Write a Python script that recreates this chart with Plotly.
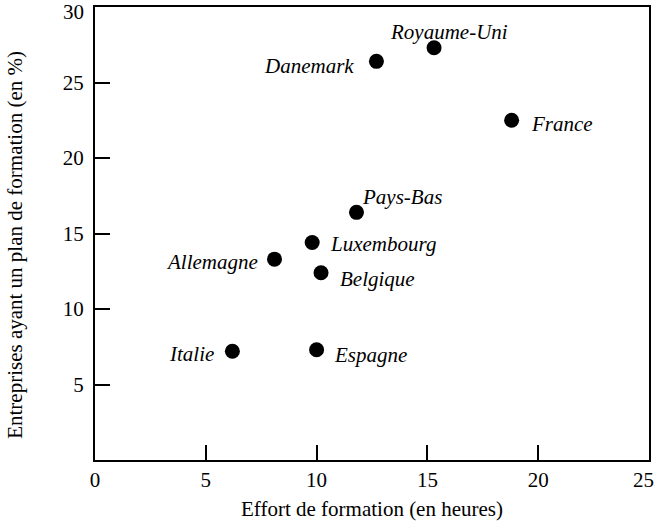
import plotly.graph_objects as go

countries = ["Royaume-Uni", "Danemark", "France", "Pays-Bas", "Luxembourg",
             "Allemagne", "Belgique", "Italie", "Espagne"]
effort_heures = [15.3, 12.7, 18.8, 11.8, 9.8, 8.1, 10.2, 6.2, 10.0]
pct_plan = [27.3, 26.4, 22.5, 16.4, 14.4, 13.3, 12.4, 7.2, 7.3]

x_ticks = [0, 5, 10, 15, 20, 25]
y_ticks = [5, 10, 15, 20, 25, 30]

# label placement: (xanchor, xshift, yshift) in pixels
label_pos = {
    "Royaume-Uni": ("center", 15, 16),
    "Danemark": ("right", -20, -5),
    "France": ("left", 17, -4),
    "Pays-Bas": ("left", 4, 15),
    "Luxembourg": ("left", 16, -1),
    "Allemagne": ("right", -15, -3),
    "Belgique": ("left", 17, -6),
    "Italie": ("right", -16, -3),
    "Espagne": ("left", 15, -5),
}

SERIF = "Liberation Serif, Times New Roman, serif"
FS = 21
tick_font = dict(family=SERIF, size=FS, color="black")

fig = go.Figure(go.Scatter(
    x=effort_heures, y=pct_plan, mode="markers",
    marker=dict(size=15, color="black"),
    hoverinfo="skip", showlegend=False,
))

for name, xv, yv in zip(countries, effort_heures, pct_plan):
    anchor, dx, dy = label_pos[name]
    fig.add_annotation(
        x=xv, y=yv, text=f"<i>{name}</i>", showarrow=False,
        xanchor=anchor, yanchor="middle", xshift=dx, yshift=dy,
        font=tick_font,
    )

# the end labels (30 and 25) are nudged inward so they stay on the page
fig.add_annotation(x=0, y=y_ticks[-1], text=str(y_ticks[-1]), showarrow=False,
                   xanchor="right", yanchor="middle", xshift=-9, yshift=-5,
                   font=tick_font)
fig.add_annotation(x=x_ticks[-1], y=0, text=str(x_ticks[-1]), showarrow=False,
                   xanchor="center", yanchor="top", xshift=-6, yshift=-6,
                   font=tick_font)

# y title placed by hand (it sits a little below the plot's middle)
fig.add_annotation(
    text="Entreprises ayant un plan de formation (en %)",
    xref="paper", yref="paper", x=0, y=0.475, xshift=-80,
    textangle=-90, showarrow=False, xanchor="center", yanchor="middle",
    font=tick_font,
)

axis_common = dict(
    showgrid=False, zeroline=False, showline=True, linecolor="black",
    linewidth=2, mirror=True, ticks="inside", ticklen=15, tickwidth=2,
    tickcolor="black", tickfont=tick_font, automargin=False,
)

fig.update_xaxes(
    range=[0, 25], tickvals=x_ticks,
    ticktext=[str(v) for v in x_ticks[:-1]] + [""],
    title=dict(text="Effort de formation (en heures)", font=tick_font,
               standoff=10),
    **axis_common,
)
fig.update_yaxes(
    range=[0, 30], tickvals=y_ticks, ticklabelstandoff=5,
    ticktext=[str(v) for v in y_ticks[:-1]] + [""],
    **axis_common,
)

fig.update_layout(
    width=656, height=527,
    margin=dict(l=95, r=7, t=7, b=67),
    plot_bgcolor="white", paper_bgcolor="white",
    font=dict(family=SERIF, color="black"),
)

fig.write_html("out.html", config={"displayModeBar": False},
               post_script="document.body.style.margin='0';")
